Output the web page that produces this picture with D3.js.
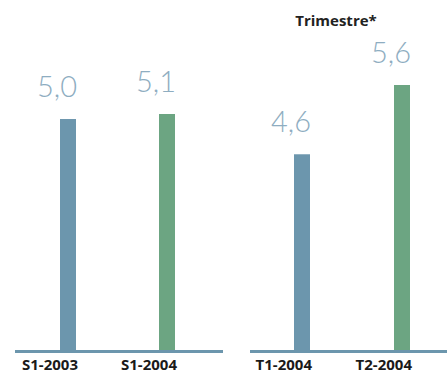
<!DOCTYPE html>
<html>
<head>
<meta charset="utf-8">
<script src="https://cdn.jsdelivr.net/npm/d3@7"></script>
<style>
  html, body { margin: 0; padding: 0; background: #fff; }
  svg { display: block; }
</style>
</head>
<body>
<div id="chart"></div>
<script>
// Semester comparison (left) and quarterly comparison (right)
const semesterCats = ["S1-2003", "S1-2004"];
const semesterValues = [5.0, 5.1];
const quarterCats = ["T1-2004", "T2-2004"];
const quarterValues = [4.6, 5.6];
const quarterTitle = "Trimestre*";

const W = 447, H = 373;
const baseline = 351;
const blue = "#6c96ad", green = "#6ca582", labelColor = "#8eadc1";
const barColors = [blue, green];
const barW = 16;

const svg = d3.select("#chart").append("svg")
  .attr("width", W).attr("height", H);

const fmt = v => d3.format(".1f")(v).replace(".", ",");

const panels = [
  { cats: semesterCats, values: semesterValues,
    x: d3.scalePoint().domain(semesterCats).range([68, 167]),
    y: d3.scaleLinear().domain([0.38, 5.1]).range([baseline, 114]),
    axis: [15, 223] },
  { cats: quarterCats, values: quarterValues,
    x: d3.scalePoint().domain(quarterCats).range([302, 402]),
    y: d3.scaleLinear().domain([1.76, 5.6]).range([baseline, 85]),
    axis: [250, 447] }
];

panels.forEach(p => {
  const g = svg.append("g");
  const data = p.cats.map((c, i) => ({ c, v: p.values[i], i }));

  g.selectAll("rect.bar").data(data).join("rect")
    .attr("class", "bar")
    .attr("x", d => p.x(d.c) - barW / 2)
    .attr("width", barW)
    .attr("y", d => p.y(d.v))
    .attr("height", d => baseline + 1 - p.y(d.v))
    .attr("fill", d => barColors[d.i]);

  // baseline rule
  g.append("rect")
    .attr("x", p.axis[0]).attr("width", p.axis[1] - p.axis[0])
    .attr("y", baseline - 1).attr("height", 3)
    .attr("fill", blue);

  // value labels
  g.selectAll("text.val").data(data).join("text")
    .attr("class", "val")
    .attr("x", d => p.x(d.c) - 11)
    .attr("y", d => p.y(d.v) - 22)
    .attr("text-anchor", "middle")
    .attr("font-family", "Lato, 'Open Sans', sans-serif")
    .attr("font-weight", 300)
    .attr("font-size", 29)
    .attr("fill", labelColor)
    .text(d => fmt(d.v));

  // category labels
  g.selectAll("text.cat").data(data).join("text")
    .attr("class", "cat")
    .attr("x", d => p.x(d.c) + barW / 2 + 2)
    .attr("y", 370)
    .attr("text-anchor", "end")
    .attr("font-family", "'Open Sans', 'Liberation Sans', sans-serif")
    .attr("font-weight", 700)
    .attr("font-size", 15)
    .attr("fill", "#1a1a1a")
    .text(d => d.c);
});

svg.append("text")
  .attr("x", 336).attr("y", 26)
  .attr("text-anchor", "middle")
  .attr("font-family", "'Open Sans', 'Liberation Sans', sans-serif")
  .attr("font-weight", 700)
  .attr("font-size", 15)
  .attr("fill", "#222")
  .text(quarterTitle);
</script>
</body>
</html>
